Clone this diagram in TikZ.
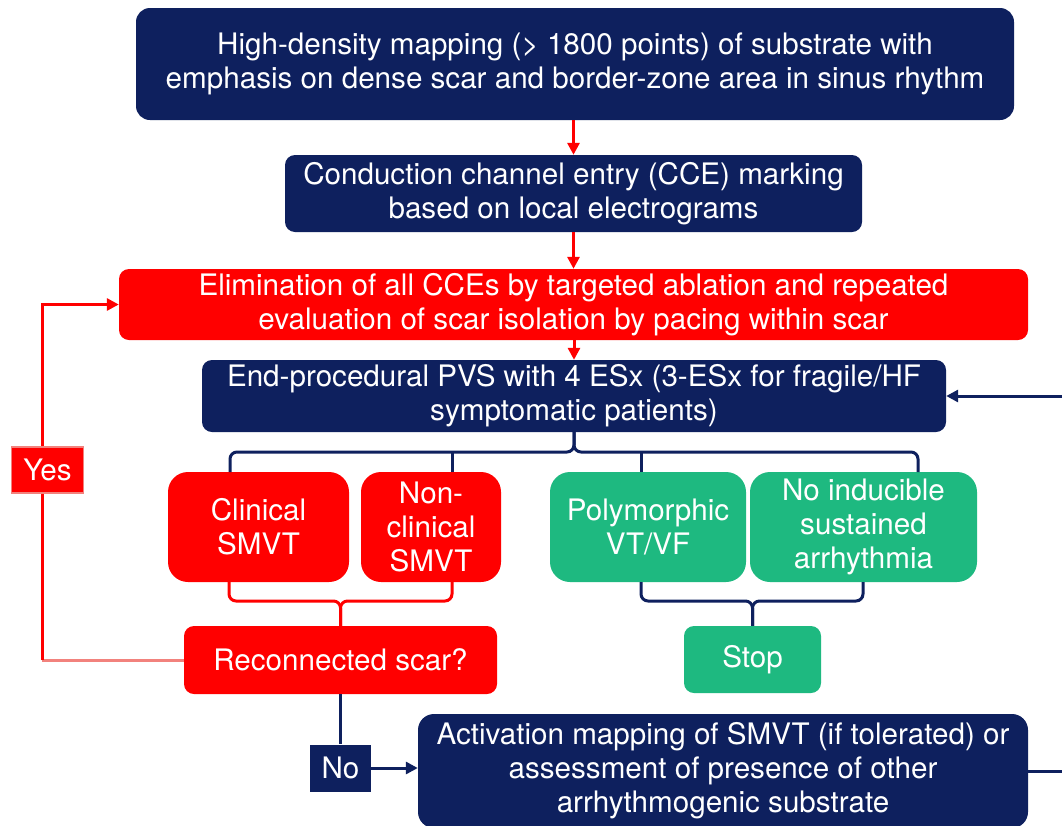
\documentclass[tikz,border=0pt]{standalone}
\usepackage{fontspec}
\setmainfont{TeX Gyre Heros}
\usetikzlibrary{arrows.meta}
\definecolor{navy}{RGB}{14,32,94}
\definecolor{myred}{RGB}{255,0,0}
\definecolor{mygreen}{RGB}{30,185,128}
\definecolor{salmon}{RGB}{242,130,125}
\begin{document}
\begin{tikzpicture}[x=1pt,y=-1pt,
  box/.style={rounded corners=14pt, text=white, align=center, inner sep=0pt,
    font=\fontsize{29.6}{34}\selectfont},
  navybox/.style={box, fill=navy},
  redbox/.style={box, fill=myred},
  greenbox/.style={box, fill=mygreen},
  rbox/.style={box, rounded corners=20pt},
  lbl/.style={text=white, align=center, inner sep=0pt, font=\fontsize{29.6}{34}\selectfont},
  redline/.style={draw=myred, line width=3pt},
  navyline/.style={draw=navy, line width=3pt},
  salmonline/.style={draw=salmon, line width=3pt},
  tip/.style={-{Triangle[length=12pt,width=12pt]}}
]
\useasboundingbox (0,0) rectangle (1062,825);
\fill[white] (0,0) rectangle (1062,825);

% main boxes
\node[navybox, minimum width=878pt, minimum height=112pt] (b1) at (575,64)
  {High-density mapping (> 1800 points) of substrate with\\emphasis on dense scar and border-zone area in sinus rhythm};
\node[navybox, rounded corners=10pt, minimum width=577pt, minimum height=77pt] (b2) at (573.5,193.5)
  {Conduction channel entry (CCE) marking\\based on local electrograms};
\node[redbox, rounded corners=10pt, minimum width=909pt, minimum height=71pt] (b3) at (573.5,304.5)
  {Elimination of all CCEs by targeted ablation and repeated\\evaluation of scar isolation by pacing within scar};
\node[navybox, rounded corners=10pt, minimum width=744pt, minimum height=72pt] (b4) at (574,396)
  {End-procedural PVS with 4 ESx (3-ESx for fragile/HF\\symptomatic patients)};

% outcome boxes
\node[redbox, rbox, minimum width=181pt, minimum height=110pt] (c1) at (258.5,527)
  {Clinical\\SMVT};
\node[redbox, rbox, minimum width=140pt, minimum height=110pt] (c2) at (431,527)
  {Non-\\clinical\\SMVT};
\node[greenbox, rbox, minimum width=196pt, minimum height=110pt] (c3) at (648,527)
  {Polymorphic\\VT/VF};
\node[greenbox, rbox, minimum width=227pt, minimum height=110pt] (c4) at (863.5,527)
  {No inducible\\sustained\\arrhythmia};

\node[redbox, rounded corners=10pt, minimum width=313pt, minimum height=68pt] (r) at (340.5,660)
  {Reconnected scar?};
\node[greenbox, rounded corners=10pt, minimum width=137pt, minimum height=67pt] (s) at (752.5,659.5)
  {Stop};
\node[navybox, rounded corners=16pt, minimum width=610pt, minimum height=114pt] (a) at (723,771)
  {Activation mapping of SMVT (if tolerated) or\\assessment of presence of other\\arrhythmogenic substrate};

% arrows between main boxes
\draw[redline, tip] (b2.north |- b1.south) -- (b2.north);
\draw[redline, tip] (b2.south) -- (b3.north -| b2.south);
\draw[redline, tip] (b4.north |- b3.south) -- (b4.north);

% top bracket
\coordinate (tb) at (574,452);
\coordinate (tl) at (230,472);
\coordinate (tr) at (918,472);
\draw[navyline, rounded corners=7pt] (tl) |- (tb) -- (b4.south);
\draw[navyline, rounded corners=7pt] (tr) |- (tb) -- (b4.south);
\draw[navyline] (452,452) -- (452,472);
\draw[navyline] (641,452) -- (641,472);

% red brace
\coordinate (rb) at (340.5,601);
\draw[redline, rounded corners=7pt] (229,582) |- (rb) -- (r.north);
\draw[redline, rounded corners=7pt] (452,582) |- (rb) -- (r.north);

% navy brace
\coordinate (nb) at (752.5,601);
\draw[navyline, rounded corners=7pt] (641,582) |- (nb) -- (s.north);
\draw[navyline, rounded corners=7pt] (863,582) |- (nb) -- (s.north);

% Yes loop
\coordinate (yb) at (42,660);
\draw[salmonline] (r.west) -- (yb);
\draw[redline, tip] (yb) |- (b3.west);
\node[lbl, fill=myred, draw=salmon, line width=1.2pt, minimum width=72pt, minimum height=46pt] (yes) at (47.5,470) {Yes};

% No path
\node[lbl, fill=navy, minimum width=61pt, minimum height=47pt] (no) at (340.5,768) {No};
\draw[navyline] (r.south) -- (no.north);
\draw[navyline, tip] (no.east) -- (a.west |- no.east);

% right loop
\coordinate (rc) at (1068,771);
\draw[navyline, tip] (a.east) -- (rc) |- (b4.east);
\end{tikzpicture}
\end{document}
